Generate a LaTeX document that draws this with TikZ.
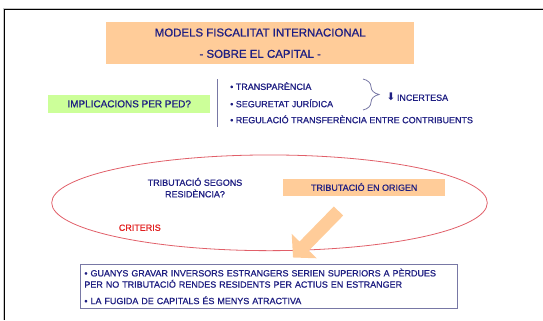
\documentclass[tikz,border=0pt]{standalone}
\usepackage{fontspec}
\setmainfont{Liberation Sans}[FakeBold=0.8]
\newfontfamily\symbolfont{DejaVu Sans}
\usepackage{tikz}
\usetikzlibrary{shapes.geometric, arrows.meta, decorations.pathreplacing}
\definecolor{textblue}{RGB}{30,30,130}
\definecolor{peach}{RGB}{255,204,153}
\definecolor{palegreen}{RGB}{204,255,153}
\definecolor{ovalred}{RGB}{225,95,105}
\definecolor{critred}{RGB}{225,30,30}
\definecolor{lineblue}{RGB}{120,120,165}
\tikzstyle{box} = [rectangle, inner sep=0pt, text=textblue, align=center]
\tikzstyle{tag} = [box, text height=7bp, text depth=0pt]
\tikzstyle{item} = [inner sep=0pt, anchor=base west, text=textblue]
\tikzstyle{arrow} = [line width=13bp, -{Triangle[length=16bp, width=34bp]}, draw=peach]

\begin{document}
\begin{tikzpicture}[x=1bp, y=-1bp, font=\fontsize{9}{11.3}\selectfont]
  \useasboundingbox (0,0) rectangle (543,320);
  \draw[gray!45, line width=1bp] (3.5,320) |- (543,8);
  \draw[black, line width=1.3bp] (4.7,320) |- (542.7,9.5);

  \node (title) [box, fill=peach, minimum width=308bp, minimum height=41.7bp, font=\fontsize{11.5}{21.4}\selectfont] at (260.2,43.2) {MODELS FISCALITAT INTERNACIONAL\\- SOBRE EL CAPITAL -};

  \node (ped) [tag, fill=palegreen, minimum width=162bp, minimum height=17.7bp, font=\fontsize{10}{12}\selectfont] at (129.2,103.8) {IMPLICACIONS PER PED?};
  \draw[lineblue, line width=1.5bp] (217.3,79) -- (217.3,126.7);
  \node (transp) [item] at (230,89.9) {• TRANSPARÈNCIA};
  \node (segur) [item] at (230,107.2) {• SEGURETAT JURÍDICA};
  \node (regul) [item] at (230,123.2) {• REGULACIÓ TRANSFERÈNCIA ENTRE CONTRIBUENTS};
  \draw[lineblue, line width=0.8bp, decorate, decoration={brace, amplitude=16bp}] (363,79) -- (363,110);
  \node (incert) [item] at (386.5,100.8) {{\symbolfont\fontsize{10.5}{10.5}\selectfont ⬇}\,INCERTESA};

  \node (oval) [ellipse, draw=ovalred, line width=0.8bp, minimum width=435.6bp, minimum height=95.7bp, inner sep=0pt] at (269.5,202.8) {};
  \node (resid) [box, font=\fontsize{9}{11.6}\selectfont] at (195,187.7) {TRIBUTACIÓ SEGONS\\RESIDÈNCIA?};
  \node (origen) [tag, fill=peach, minimum width=161.7bp, minimum height=16.7bp] at (364.2,187.3) {TRIBUTACIÓ EN ORIGEN};
  \node (crit) [tag, text=critred] at (139.8,227.3) {CRITERIS};

  \node (guanys) [box, draw=lineblue, line width=0.8bp, fill=white, anchor=north west, minimum height=44bp, inner xsep=4bp, text width=369bp, align=left] at (80,264) {• GUANYS GRAVAR INVERSORS ESTRANGERS SERIEN SUPERIORS A PÈRDUES\\PER NO TRIBUTACIÓ RENDES RESIDENTS PER ACTIUS EN ESTRANGER\\[5.2bp]• LA FUGIDA DE CAPITALS ÉS MENYS ATRACTIVA};

  \coordinate (arrowtail) at (338.5,211);
  \coordinate (arrowtip) at (293,257.5);
  \draw [arrow] (arrowtail) -- (arrowtip);
\end{tikzpicture}
\end{document}
